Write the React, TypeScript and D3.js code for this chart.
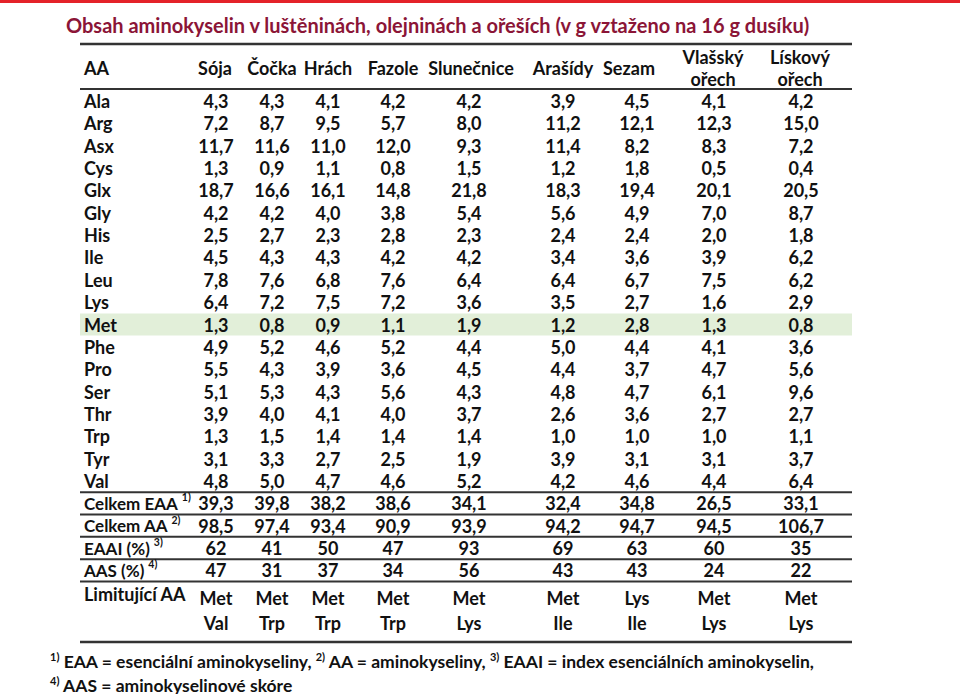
import React from "react";
import * as d3 from "d3";

const title = "Obsah aminokyselin v luštěninách, olejninách a ořeších (v g vztaženo na 16 g dusíku)";
const columns = ["Sója", "Čočka", "Hrách", "Fazole", "Slunečnice", "Arašídy", "Sezam", "Vlašský ořech", "Lískový ořech"];
const aminoAcids = ["Ala", "Arg", "Asx", "Cys", "Glx", "Gly", "His", "Ile", "Leu", "Lys", "Met", "Phe", "Pro", "Ser", "Thr", "Trp", "Tyr", "Val"];
const aaValues: number[][] = [
  [4.3, 4.3, 4.1, 4.2, 4.2, 3.9, 4.5, 4.1, 4.2],
  [7.2, 8.7, 9.5, 5.7, 8.0, 11.2, 12.1, 12.3, 15.0],
  [11.7, 11.6, 11.0, 12.0, 9.3, 11.4, 8.2, 8.3, 7.2],
  [1.3, 0.9, 1.1, 0.8, 1.5, 1.2, 1.8, 0.5, 0.4],
  [18.7, 16.6, 16.1, 14.8, 21.8, 18.3, 19.4, 20.1, 20.5],
  [4.2, 4.2, 4.0, 3.8, 5.4, 5.6, 4.9, 7.0, 8.7],
  [2.5, 2.7, 2.3, 2.8, 2.3, 2.4, 2.4, 2.0, 1.8],
  [4.5, 4.3, 4.3, 4.2, 4.2, 3.4, 3.6, 3.9, 6.2],
  [7.8, 7.6, 6.8, 7.6, 6.4, 6.4, 6.7, 7.5, 6.2],
  [6.4, 7.2, 7.5, 7.2, 3.6, 3.5, 2.7, 1.6, 2.9],
  [1.3, 0.8, 0.9, 1.1, 1.9, 1.2, 2.8, 1.3, 0.8],
  [4.9, 5.2, 4.6, 5.2, 4.4, 5.0, 4.4, 4.1, 3.6],
  [5.5, 4.3, 3.9, 3.6, 4.5, 4.4, 3.7, 4.7, 5.6],
  [5.1, 5.3, 4.3, 5.6, 4.3, 4.8, 4.7, 6.1, 9.6],
  [3.9, 4.0, 4.1, 4.0, 3.7, 2.6, 3.6, 2.7, 2.7],
  [1.3, 1.5, 1.4, 1.4, 1.4, 1.0, 1.0, 1.0, 1.1],
  [3.1, 3.3, 2.7, 2.5, 1.9, 3.9, 3.1, 3.1, 3.7],
  [4.8, 5.0, 4.7, 4.6, 5.2, 4.2, 4.6, 4.4, 6.4],
];
const summaryLabels = ["Celkem EAA", "Celkem AA", "EAAI (%)", "AAS (%)"];
const summarySup = ["1)", "2)", "3)", "4)"];
const celkemEAA = [39.3, 39.8, 38.2, 38.6, 34.1, 32.4, 34.8, 26.5, 33.1];
const celkemAA = [98.5, 97.4, 93.4, 90.9, 93.9, 94.2, 94.7, 94.5, 106.7];
const eaai = [62, 41, 50, 47, 93, 69, 63, 60, 35];
const aas = [47, 31, 37, 34, 56, 43, 43, 24, 22];
const limiting1 = ["Met", "Met", "Met", "Met", "Met", "Met", "Lys", "Met", "Met"];
const limiting2 = ["Val", "Trp", "Trp", "Trp", "Lys", "Ile", "Ile", "Lys", "Lys"];
const highlightRow = "Met";

const W = 960, H = 694;
const FONT = "Lato, 'Open Sans', sans-serif";
const colCenters = [216, 272, 328, 393, 469, 563, 637, 714, 801];
const headerCenters = [215, 272, 328, 393, 471, 563, 629, 713, 800];

const fmt1 = (v: number) => d3.format(".1f")(v).replace(".", ",");
const fmt0 = (v: number) => d3.format("d")(v);

export default function App() {
  const x = (i: number) => colCenters[i];
  const yRow = d3.scaleLinear().domain([0, 1]).range([101, 101 + 22.35]);
  const tableL = 80, tableR = 852;
  const summaryStart = aminoAcids.length;
  const summaryData = [celkemEAA.map(fmt1), celkemAA.map(fmt1), eaai.map(fmt0), aas.map(fmt0)];
  const lineY = (i: number) => yRow(i - 0.5);
  const limY1 = 598, limY2 = 623;
  const fs = 18;
  const textStyle = { fontFamily: FONT, fontWeight: 700, fontSize: fs, fill: "#111" } as const;
  const footStyle = { ...textStyle, fontSize: 17.5 };

  return (
    <svg width={W} height={H} style={{ position: "absolute", left: 0, top: 0, background: "#fff" }}>
      <rect x={0} y={0} width={W} height={3} fill="#E42229" />
      <text x={66} y={25} dominantBaseline="central" style={{ fontFamily: FONT, fontWeight: 700, fontSize: 20, fill: "#8B1537" }}>{title}</text>
      {aminoAcids.map((a, i) => a === highlightRow ? (
        <rect key={a} x={tableL} y={yRow(i) - 11} width={tableR - tableL} height={22} fill="#E2EFD9" />
      ) : null)}
      <line x1={tableL} x2={tableR} y1={44} y2={44} stroke="#333" strokeWidth={2.5} />
      <line x1={tableL} x2={tableR} y1={89} y2={89} stroke="#333" strokeWidth={2} />
      {[0, 1, 2, 3, 4].map(k => (
        <line key={k} x1={tableL} x2={tableR} y1={lineY(summaryStart + k)} y2={lineY(summaryStart + k)} stroke="#333" strokeWidth={2} />
      ))}
      <line x1={tableL} x2={tableR} y1={642} y2={642} stroke="#333" strokeWidth={2.5} />
      <text x={84} y={68} dominantBaseline="central" style={textStyle}>AA</text>
      {columns.map((c, i) => {
        const parts = c.split(" ");
        if (parts.length === 1) {
          return <text key={c} x={headerCenters[i]} y={68} textAnchor="middle" dominantBaseline="central" style={textStyle}>{c}</text>;
        }
        return (
          <g key={c}>
            <text x={headerCenters[i]} y={57} textAnchor="middle" dominantBaseline="central" style={textStyle}>{parts[0]}</text>
            <text x={headerCenters[i]} y={79} textAnchor="middle" dominantBaseline="central" style={textStyle}>{parts[1]}</text>
          </g>
        );
      })}
      {aminoAcids.map((a, r) => (
        <g key={a}>
          <text x={84} y={yRow(r)} dominantBaseline="central" style={textStyle}>{a}</text>
          {aaValues[r].map((v, c) => (
            <text key={c} x={x(c)} y={yRow(r)} textAnchor="middle" dominantBaseline="central" style={textStyle}>{fmt1(v)}</text>
          ))}
        </g>
      ))}
      {summaryLabels.map((l, k) => (
        <g key={l}>
          <text x={84} y={yRow(summaryStart + k)} dominantBaseline="central" style={{ ...textStyle, fontSize: 17 }}>
            {l}
            <tspan fontSize={10.5} dx={4} dy={-6}>{summarySup[k]}</tspan>
          </text>
          {summaryData[k].map((v, c) => (
            <text key={c} x={x(c)} y={yRow(summaryStart + k)} textAnchor="middle" dominantBaseline="central" style={textStyle}>{v}</text>
          ))}
        </g>
      ))}
      <text x={84} y={594} dominantBaseline="central" style={textStyle}>Limitující AA</text>
      {limiting1.map((v, c) => (
        <text key={"l1" + c} x={x(c)} y={limY1} textAnchor="middle" dominantBaseline="central" style={textStyle}>{v}</text>
      ))}
      {limiting2.map((v, c) => (
        <text key={"l2" + c} x={x(c)} y={limY2} textAnchor="middle" dominantBaseline="central" style={textStyle}>{v}</text>
      ))}
      <text x={50} y={661} dominantBaseline="central" style={footStyle}>
        <tspan fontSize={11} dy={-5}>1)</tspan>
        <tspan dy={5}> EAA = esenciální aminokyseliny, </tspan>
        <tspan fontSize={11} dy={-5}>2)</tspan>
        <tspan dy={5}> AA = aminokyseliny,  </tspan>
        <tspan fontSize={11} dy={-5}>3)</tspan>
        <tspan dy={5}> EAAI = index esenciálních aminokyselin,</tspan>
      </text>
      <text x={50} y={685} dominantBaseline="central" style={footStyle}>
        <tspan fontSize={11} dy={-5}>4)</tspan>
        <tspan dy={5}> AAS = aminokyselinové skóre</tspan>
      </text>
    </svg>
  );
}
